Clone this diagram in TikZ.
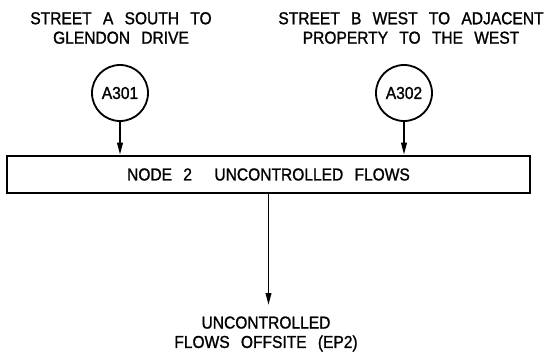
\documentclass[tikz,border=0pt]{standalone}
\usepackage{fontspec}
\setmainfont{Liberation Sans}[FakeStretch=0.9, WordSpace=2.6, FakeBold=1.2]
\usepackage{tikz}
\usetikzlibrary{arrows.meta, positioning}

\begin{document}
\begin{tikzpicture}[
  lbl/.style={align=center, inner sep=0pt, font=\fontsize{12.3}{13.8}\selectfont},
  refcirc/.style={circle, draw=black, line width=1.3pt, minimum size=1.4cm,
    inner sep=0pt, font=\fontsize{12.3}{13.8}\selectfont},
  flowbox/.style={rectangle, draw=black, line width=1.8pt, minimum width=13.075cm,
    minimum height=0.925cm, inner sep=0pt, font=\fontsize{12.3}{13.8}\selectfont},
  arr/.style={-{Triangle[length=3mm, width=1.4mm]}, line width=1.3pt}
]
  \useasboundingbox (0,0) rectangle (13.7,-8.825);

  \node[lbl]      (streeta) at (3.025, -0.7)    {STREET A SOUTH TO\\GLENDON DRIVE};
  \node[lbl]      (streetb) at (10.275, -0.7)   {STREET B WEST TO ADJACENT\\PROPERTY TO THE WEST};

  \node[refcirc]  (a301)    at (3.0, -2.325)    {A301};
  \node[refcirc]  (a302)    at (10.1, -2.325)   {A302};

  \node[flowbox]  (node2)   at (6.7125, -4.3625) {NODE 2\ \ UNCONTROLLED FLOWS};

  \coordinate     (outlet)  at (6.7125, -7.625);
  \node[lbl]      (offsite) at (6.65, -8.35)    {UNCONTROLLED\\FLOWS OFFSITE (EP2)};

  \draw[arr] (a301.south) -- (a301.south |- node2.north);
  \draw[arr] (a302.south) -- (a302.south |- node2.north);
  \draw[arr] (node2.south) -- (outlet);
\end{tikzpicture}
\end{document}
